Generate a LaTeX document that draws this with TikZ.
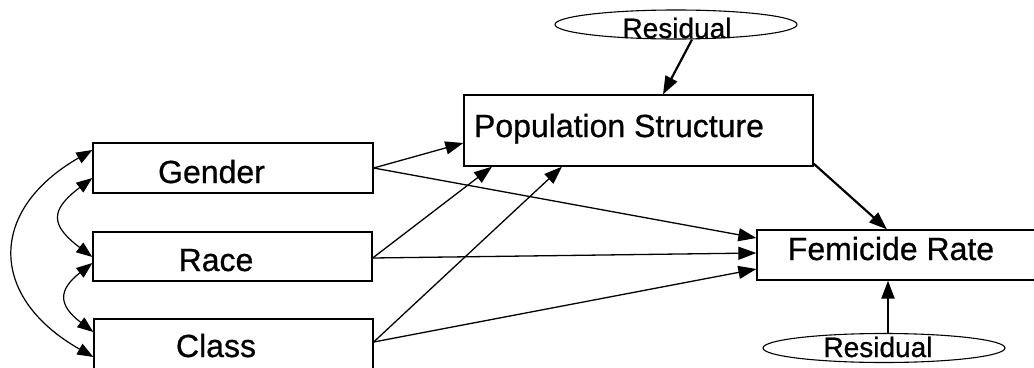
\documentclass[tikz,border=0pt]{standalone}
\usepackage{fontspec}
\setmainfont{Liberation Sans}
\newfontfamily\dk{Liberation Sans}[FakeBold=0.7]
\usetikzlibrary{arrows.meta,shapes.geometric}
\begin{document}
\begin{tikzpicture}[x=1pt,y=-1pt]
\tikzset{
 box/.style={draw, line width=1.3pt, rectangle, inner sep=0pt},
 lbl/.style={anchor=base, inner sep=0pt, font=\dk\fontsize{32}{36}\selectfont},
 rlbl/.style={anchor=base, inner sep=0pt, font=\dk\fontsize{28}{32}\selectfont},
 res/.style={draw, ellipse, line width=1.1pt, inner sep=0pt, minimum width=242pt, minimum height=29pt},
 effect/.style={line width=1.3pt, -{Triangle[length=18pt,width=13pt]}},
 heavy/.style={line width=2.2pt, -{Triangle[length=18pt,width=13pt]}},
 cov/.style={line width=1.2pt, {Triangle[length=16pt,width=12pt]}-{Triangle[length=16pt,width=12pt]}}
}
\useasboundingbox (0,0) rectangle (1034,367);
\fill[white] (0,0) rectangle (1034,367);

% boxes
\node[box, minimum width=280pt, minimum height=50pt] (gender) at (233,168) {};
\node[box, minimum width=279pt, minimum height=49pt] (race) at (232.5,256.5) {};
\node[box, minimum width=279pt, minimum height=50pt] (class) at (233.5,344) {};
\node[box, minimum width=349pt, minimum height=71pt] (pop) at (638.5,130.5) {};
\node[box, minimum width=283pt, minimum height=50pt] (fem) at (898.5,255) {};

% box texts
\node[lbl] (gendert) at (211.5,183) {Gender};
\node[lbl] (racet) at (216,271) {Race};
\node[lbl] (classt) at (216,357) {Class};
\node[lbl] (popt) at (619,137) {Population Structure};
\node[lbl] (femt) at (891,260) {Femicide Rate};

% residuals
\node[res] (res1) at (676,24.5) {};
\node[rlbl] (res1t) at (677,38) {Residual};
\node[res] (res2) at (884,348) {};
\node[rlbl] (res2t) at (878,357) {Residual};

% effects
\draw[effect] (gender.east) -- ([yshift=-12.5pt]pop.west);
\draw[effect] (gender.east) -- ([yshift=17pt]fem.west);
\draw[effect] ([yshift=-1.5pt]race.east) -- ([xshift=-146.5pt]pop.south);
\draw[effect] ([yshift=-1.5pt]race.east) -- ([yshift=2pt]fem.west);
\draw[effect] ([yshift=2pt]class.east) -- ([xshift=-76.5pt]pop.south);
\draw[effect] ([yshift=2pt]class.east) -- ([yshift=-14pt]fem.west);
\draw[heavy] ([yshift=3pt]pop.south east) -- ([xshift=-11.5pt]fem.north);
\draw[heavy] ([xshift=16pt]res1.south) -- ([xshift=24.5pt]pop.north);
\draw[heavy] ([xshift=4pt]res2.north) -- ([xshift=-10.5pt]fem.south);

% covariances
\draw[cov] ([yshift=-10pt]gender.west) .. controls (50,210) and (50,225) .. ([yshift=-0.5pt]race.west);
\draw[cov] ([yshift=-6.5pt]race.west) .. controls (58,290) and (58,305) .. ([yshift=12pt]class.west);
\draw[cov] ([yshift=18pt]gender.west) .. controls (-12,210) and (-12,297) .. ([yshift=-13pt]class.west);
\end{tikzpicture}
\end{document}
